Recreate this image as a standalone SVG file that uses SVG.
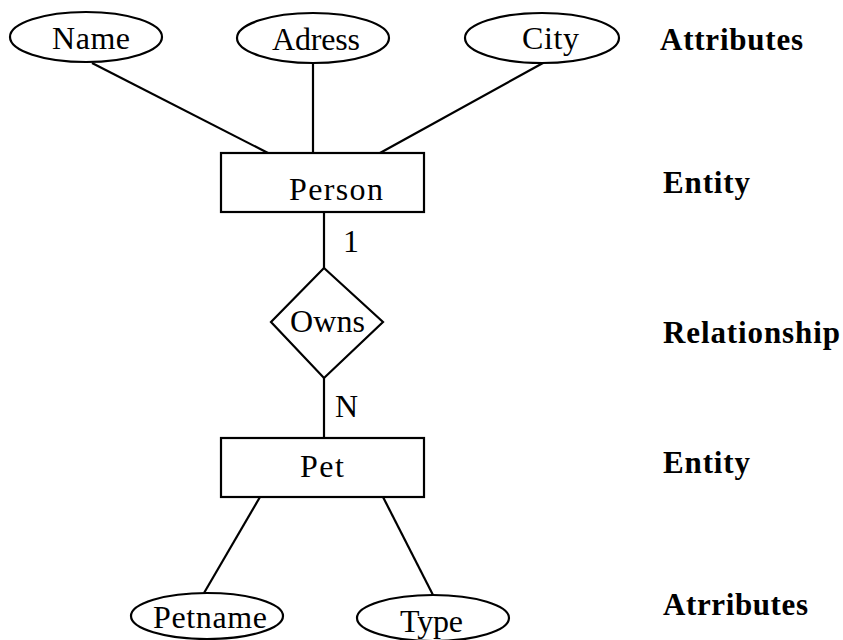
<svg xmlns="http://www.w3.org/2000/svg" width="843" height="640" viewBox="0 0 843 640">
<style>
.s{fill:#fff;stroke:#000;stroke-width:2.2}
.l{stroke:#000;stroke-width:2.2;fill:none}
.t{font-family:"Liberation Serif","Times New Roman",serif;font-size:32px;fill:#000}
.b{font-family:"Liberation Serif","Times New Roman",serif;font-size:31px;font-weight:bold;fill:#000}
</style>
<rect width="843" height="640" fill="#fff"/>
<g id="connectors">
<line class="l" x1="92" y1="63" x2="268" y2="153"/>
<line class="l" x1="313" y1="63" x2="313" y2="153"/>
<line class="l" x1="543" y1="63" x2="380" y2="153"/>
<line class="l" x1="324" y1="212" x2="324" y2="268"/>
<line class="l" x1="324" y1="378" x2="324" y2="438"/>
<line class="l" x1="260" y1="497" x2="204" y2="593"/>
<line class="l" x1="383" y1="497" x2="433" y2="595"/>
<text class="t" x="343" y="252" textLength="11">1</text>
<text class="t" x="335" y="417" textLength="22">N</text>
</g>
<g id="name"><ellipse class="s" cx="86" cy="37" rx="76" ry="25"/><text class="t" x="52" y="49" textLength="78">Name</text></g>
<g id="adress"><ellipse class="s" cx="313" cy="38" rx="76" ry="25"/><text class="t" x="272" y="50" textLength="88">Adress</text></g>
<g id="city"><ellipse class="s" cx="542" cy="38" rx="77" ry="25"/><text class="t" x="522" y="49" textLength="57">City</text></g>
<g id="person"><rect class="s" x="221" y="153" width="203" height="59"/><text class="t" x="289" y="200" textLength="94">Person</text></g>
<g id="owns"><polygon class="s" points="324,268 383,322 324,378 271,322"/><text class="t" x="290" y="332" textLength="75">Owns</text></g>
<g id="pet"><rect class="s" x="221" y="438" width="203" height="59"/><text class="t" x="300" y="477" textLength="44">Pet</text></g>
<g id="petname"><ellipse class="s" cx="207" cy="616" rx="76" ry="23"/><text class="t" x="153" y="628" textLength="114">Petname</text></g>
<g id="type"><ellipse class="s" cx="433" cy="618" rx="76" ry="23"/><text class="t" x="400" y="632" textLength="63">Type</text></g>
<g id="legend">
<text class="b" x="660" y="50" textLength="143">Attributes</text>
<text class="b" x="663" y="193" textLength="87">Entity</text>
<text class="b" x="663" y="343" textLength="177">Relationship</text>
<text class="b" x="663" y="473" textLength="87">Entity</text>
<text class="b" x="663" y="615" textLength="145">Atrributes</text>
</g>
</svg>
